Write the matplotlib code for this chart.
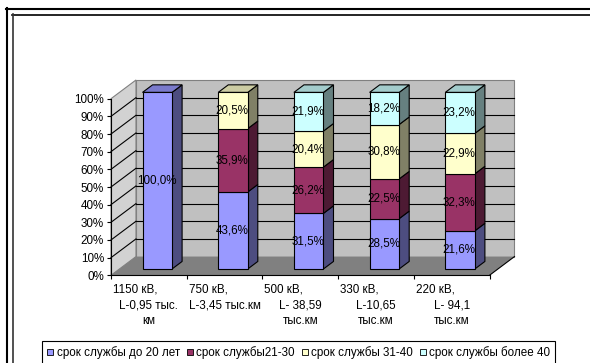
import matplotlib
matplotlib.use('Agg')
import matplotlib.pyplot as plt
from matplotlib.patches import Polygon, Patch
from matplotlib.lines import Line2D
from matplotlib.colors import to_rgb

plt.rcParams['font.family'] = ['Liberation Sans', 'DejaVu Sans']
plt.rcParams['font.size'] = 8.4

# подписи категорий (по строкам)
categories = [
    ("1150 кВ,", "L-0,95 тыс.", "км"),
    ("750 кВ,", "L-3,45 тыс.км"),
    ("500 кВ,", "L- 38,59", "тыс.км"),
    ("330 кВ,", "L-10,65", "тыс.км"),
    ("220 кВ,", "L- 94,1", "тыс.км"),
]
series_names = ["срок службы до 20 лет", "срок службы21-30",
                "срок службы 31-40", "срок службы более 40"]
upto20 = [100.0, 43.6, 31.5, 28.5, 21.6]
y21_30 = [0.0, 35.9, 26.2, 22.5, 32.3]
y31_40 = [0.0, 20.5, 20.4, 30.8, 22.9]
over40 = [0.0, 0.0, 21.9, 18.2, 23.2]
colors = ['#9999FF', '#993366', '#FFFFCC', '#CCFFFF']

series = [upto20, y21_30, y31_40, over40]
yticks = list(range(0, 101, 10))

# псевдо-3D: смещение глубины в единицах осей
DX, DY = 0.33, 10.6
Z0, Z1 = 0.337, 0.74
BAR_W = 0.39


def shade(c, k):
    r, g, b = to_rgb(c)
    return (r * k, g * k, b * k)


def poly(ax, pts, fc, ec='none', lw=0.8, z=1):
    ax.add_patch(Polygon(pts, closed=True, facecolor=fc, edgecolor=ec,
                         linewidth=lw, clip_on=False, zorder=z))


fig = plt.figure(figsize=(5.9, 3.63), dpi=100)
W, H = 590, 363
ax = fig.add_axes([111 / W, (H - 275.3) / H, 378.5 / W, 176.6 / H])
n = len(categories)
ax.set_xlim(0, n)
ax.set_ylim(0, 100)
ax.patch.set_visible(False)
for s in ['top', 'right']:
    ax.spines[s].set_visible(False)
for s in ['left', 'bottom']:
    ax.spines[s].set_linewidth(0.8)
    ax.spines[s].set_zorder(6)

# стены и пол
poly(ax, [(DX, DY), (n + DX, DY), (n + DX, 100 + DY), (DX, 100 + DY)],
     '#C0C0C0', '#808080', z=1)
poly(ax, [(0, 0), (DX, DY), (DX, 100 + DY), (0, 100)], '#D2D2D2', '#808080', z=1)
poly(ax, [(0, 0), (n, 0), (n + DX, DY), (DX, DY)], '#808080', z=2)
ax.plot([n, n + DX], [0, DY], color='k', lw=0.8, clip_on=False, zorder=2)
for v in yticks[1:-1]:
    ax.plot([DX, n + DX], [v + DY, v + DY], color='k', lw=0.8,
            clip_on=False, zorder=2)
    ax.plot([0, DX], [v, v + DY], color='k', lw=0.8, clip_on=False, zorder=2)

# столбцы
dz = Z1 - Z0
bottom = [0.0] * n
tops = [sum(s[i] for s in series) for i in range(n)]
for k, vals in enumerate(series):
    col = colors[k]
    for i, v in enumerate(vals):
        if v <= 0:
            continue
        cx = i + 0.5 + Z0 * DX
        xl, xr = cx - BAR_W / 2, cx + BAR_W / 2
        b = bottom[i] + Z0 * DY
        t = b + v
        ax.bar(cx, v, width=BAR_W, bottom=b, color=col, edgecolor='k',
               linewidth=0.8, clip_on=False, zorder=4)
        poly(ax, [(xr, b), (xr + dz * DX, b + dz * DY),
                  (xr + dz * DX, t + dz * DY), (xr, t)],
             shade(col, 0.5), 'k', z=3)
        if abs(bottom[i] + v - tops[i]) < 1e-6:
            poly(ax, [(xl, t), (xr, t), (xr + dz * DX, t + dz * DY),
                      (xl + dz * DX, t + dz * DY)],
                 shade(col, 0.8), 'k', z=3)
        ax.text(cx - 0.01, b + v / 2, f"{v:.1f}%".replace('.', ','),
                ha='center', va='center', zorder=7)
        bottom[i] += v

# оси
ax.set_yticks(yticks)
ax.set_yticklabels([f"{v}%" for v in yticks])
ax.set_xticks(range(n + 1))
ax.set_xticklabels([])
ax.tick_params(direction='out', length=3, width=0.8, pad=2)

for i, lines in enumerate(categories):
    for j, line in enumerate(lines):
        dy = -13.7 - 16 * j
        if j == 0:
            ax.annotate(line, xy=(i, 0), xytext=(2, dy),
                        textcoords='offset pixels', ha='left', va='center',
                        annotation_clip=False)
        else:
            ax.annotate(line, xy=(i + 0.5, 0), xytext=(0, dy),
                        textcoords='offset pixels', ha='center', va='center',
                        annotation_clip=False)

handles = [Patch(facecolor=c, edgecolor='k', linewidth=0.6) for c in colors]
leg = fig.legend(handles, series_names, loc='upper left',
                 bbox_to_anchor=(42 / W, 1 - 341 / H), ncol=4, frameon=True,
                 fancybox=False, edgecolor='k', framealpha=1,
                 handlelength=0.5, handleheight=0.5, handletextpad=0.3,
                 columnspacing=0.6, borderpad=0.45, borderaxespad=0)
leg.get_frame().set_linewidth(0.8)

# двойная рамка
tf = fig.transFigure
fig.add_artist(Line2D([6 / W, 1.01], [1 - 8.5 / H] * 2, lw=1.5, color='k', transform=tf))
fig.add_artist(Line2D([6.5 / W] * 2, [1 - 8 / H, -0.01], lw=1.5, color='k', transform=tf))
fig.add_artist(Line2D([12 / W, 1.01], [1 - 14.5 / H] * 2, lw=1.2, color='k', transform=tf))
fig.add_artist(Line2D([12.5 / W] * 2, [1 - 14 / H, -0.01], lw=1.2, color='#333333', transform=tf))

fig.savefig('out.png', dpi=100)
